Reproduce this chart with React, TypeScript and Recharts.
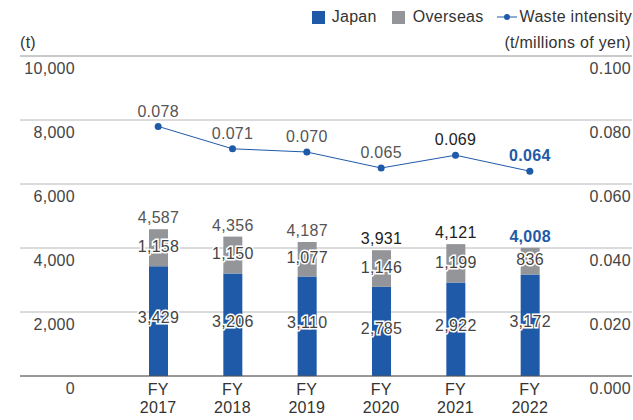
import { ComposedChart, Bar, Line, XAxis, YAxis, CartesianGrid, LabelList, ReferenceLine } from 'recharts'

const years = ['2017', '2018', '2019', '2020', '2021', '2022']
const japan = [3429, 3206, 3110, 2785, 2922, 3172]
const overseas = [1158, 1150, 1077, 1146, 1199, 836]
const totals = [4587, 4356, 4187, 3931, 4121, 4008]
const intensity = [0.078, 0.071, 0.07, 0.065, 0.069, 0.064]
const leftTicks = [0, 2000, 4000, 6000, 8000, 10000]
const rightTicks = [0, 0.02, 0.04, 0.06, 0.08, 0.1]

const data = years.map((year, i) => ({
  year,
  japan: japan[i],
  overseas: overseas[i],
  total: totals[i],
  intensity: intensity[i],
}))

const BLUE = '#1f5aa8'
const GRAY = '#939598'
const FONT = '"Liberation Sans", Arial, sans-serif'
const FS = 16
const LS = 0.3

// label colours: last year highlighted, 2020-21 darker
const totalFill = ['#555', '#555', '#555', '#222', '#222', BLUE]
const lineFill = ['#555', '#555', '#555', '#555', '#222', BLUE]

const LeftTick = ({ y, payload }: any) => (
  <text x={75} y={y + 14} textAnchor="end" dominantBaseline="middle" fontSize={FS} letterSpacing={LS} fill="#444" fontFamily={FONT}>
    {payload.value.toLocaleString('en-US')}
  </text>
)

const RightTick = ({ y, payload }: any) => (
  <text x={631} y={y + 14} textAnchor="end" dominantBaseline="middle" fontSize={FS} letterSpacing={LS} fill="#444" fontFamily={FONT}>
    {payload.value.toFixed(3)}
  </text>
)

const XTick = ({ x, payload }: any) => (
  <g fontFamily={FONT} fontSize={FS} letterSpacing={LS} fill="#333">
    <text x={x} y={395} textAnchor="middle">FY</text>
    <text x={x} y={413} textAnchor="middle">{payload.value}</text>
  </g>
)

const segmentLabel = (dy: number) => (props: any) => {
  const { x, y, width, height, value } = props
  return (
    <text
      x={x + width / 2}
      y={y + height / 2 + dy}
      textAnchor="middle"
      dominantBaseline="middle"
      fontSize={FS}
      letterSpacing={LS}
      fontFamily={FONT}
      fill="#444"
      stroke="#fff"
      strokeWidth={3}
      paintOrder="stroke"
    >
      {value.toLocaleString('en-US')}
    </text>
  )
}

const totalLabel = (props: any) => {
  const { x, y, width, value, index } = props
  return (
    <text
      x={x + width / 2}
      y={y - 10}
      textAnchor="middle"
      dominantBaseline="middle"
      fontSize={FS}
      letterSpacing={LS}
      fontFamily={FONT}
      fontWeight={index === 5 ? 'bold' : 'normal'}
      fill={totalFill[index]}
    >
      {value.toLocaleString('en-US')}
    </text>
  )
}

const intensityLabel = (props: any) => {
  const { x, y, value, index } = props
  return (
    <text
      x={x}
      y={y - 14}
      textAnchor="middle"
      dominantBaseline="middle"
      fontSize={FS}
      letterSpacing={LS}
      fontFamily={FONT}
      fontWeight={index === 5 ? 'bold' : 'normal'}
      fill={lineFill[index]}
    >
      {value.toFixed(3)}
    </text>
  )
}

export default function App() {
  return (
    <div style={{ position: 'absolute', left: 0, top: 0, width: 633, height: 420, fontFamily: FONT, color: '#333', letterSpacing: LS }}>
      <div
        style={{
          position: 'absolute',
          top: 8,
          right: 1,
          display: 'flex',
          alignItems: 'center',
          fontSize: FS,
          whiteSpace: 'nowrap',
        }}
      >
        <span style={{ width: 13, height: 13, background: BLUE, display: 'inline-block', marginRight: 7 }} />
        <span style={{ marginRight: 15 }}>Japan</span>
        <span style={{ width: 13, height: 13, background: GRAY, display: 'inline-block', marginRight: 8 }} />
        <span style={{ marginRight: 13 }}>Overseas</span>
        <svg width={20} height={10} style={{ marginRight: 3 }}>
          <line x1={0} y1={5} x2={20} y2={5} stroke={BLUE} strokeWidth={1} />
          <circle cx={10} cy={5} r={3} fill={BLUE} />
        </svg>
        <span>Waste intensity</span>
      </div>
      <div style={{ position: 'absolute', left: 20, top: 34, fontSize: FS }}>(t)</div>
      <div style={{ position: 'absolute', right: 2, top: 34, fontSize: FS }}>(t/millions of yen)</div>
      <ComposedChart width={633} height={420} data={data} margin={{ top: 56, right: 0, left: 19, bottom: 43 }}>
        <CartesianGrid horizontal vertical={false} stroke="#b8b8b8" />
        <XAxis
          dataKey="year"
          height={1}
          tick={<XTick />}
          tickLine={false}
          tickSize={0}
          tickMargin={0}
          axisLine={{ stroke: '#555' }}
          padding={{ left: 101, right: 65 }}
          interval={0}
        />
        <YAxis
          domain={[0, 10000]}
          ticks={leftTicks}
          width={1}
          axisLine={false}
          tickLine={false}
          tick={<LeftTick />}
          interval={0}
        />
        <YAxis
          yAxisId="right"
          orientation="right"
          domain={[0, 0.1]}
          ticks={rightTicks}
          width={1}
          axisLine={false}
          tickLine={false}
          tick={<RightTick />}
          interval={0}
        />
        <ReferenceLine y={10000} stroke="#b8b8b8" />
        <Bar dataKey="japan" stackId="a" fill={BLUE} barSize={19} isAnimationActive={false}>
          <LabelList dataKey="japan" content={segmentLabel(-2)} />
        </Bar>
        <Bar dataKey="overseas" stackId="a" fill={GRAY} barSize={19} isAnimationActive={false}>
          <LabelList dataKey="overseas" content={segmentLabel(0)} />
          <LabelList dataKey="total" content={totalLabel} />
        </Bar>
        <Line
          yAxisId="right"
          dataKey="intensity"
          stroke={BLUE}
          strokeWidth={1}
          dot={{ r: 3.5, fill: BLUE, stroke: BLUE, strokeWidth: 0 }}
          activeDot={false}
          isAnimationActive={false}
        >
          <LabelList dataKey="intensity" content={intensityLabel} />
        </Line>
      </ComposedChart>
    </div>
  )
}
